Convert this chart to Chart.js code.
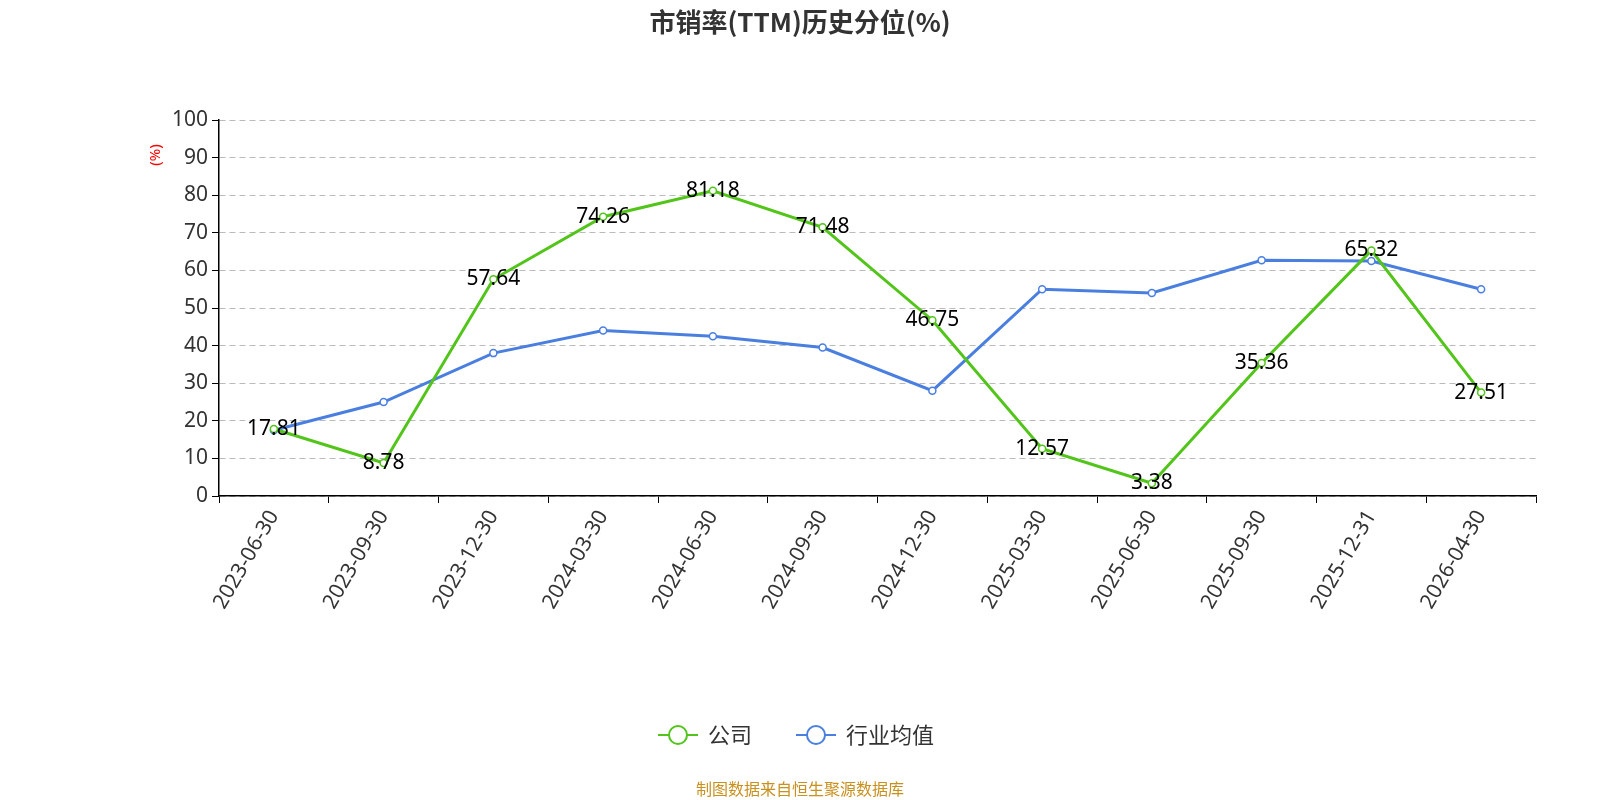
<!DOCTYPE html>
<html><head><meta charset="utf-8">
<script src="https://cdn.jsdelivr.net/npm/chart.js@4"></script>
<style>html,body{margin:0;padding:0;background:#fff;overflow:hidden}#w{width:1600px;height:800px}</style>
</head><body><div id="w"><canvas id="c"></canvas></div>
<script>
const categories=['2023-06-30','2023-09-30','2023-12-30','2024-03-30','2024-06-30','2024-09-30','2024-12-30','2025-03-30','2025-06-30','2025-09-30','2025-12-31','2026-04-30'];
const companyValues=[17.81,8.78,57.64,74.26,81.18,71.48,46.75,12.57,3.38,35.36,65.32,27.51];
const industryValues=[17.5,25,38,44,42.5,39.5,28,55,54,62.7,62.5,55];
const yTicks=[0,10,20,30,40,50,60,70,80,90,100];
const F='"Noto Sans","Noto Sans CJK SC",sans-serif';
const extras={id:'extras',afterDatasetsDraw(ch){
 const c=ch.ctx;c.save();
 const m=ch.getDatasetMeta(0);
 c.font='21px '+F;c.fillStyle='#000';c.textAlign='center';c.textBaseline='middle';
 m.data.forEach((p,i)=>c.fillText(String(companyValues[i]),p.x,p.y));
 c.font='bold 26px "Noto Sans CJK SC",sans-serif';c.fillStyle='#333';c.fillText('市销率(TTM)历史分位(%)',800,22);
 c.font='15px '+F;c.fillStyle='#ff0000';c.translate(156,155);c.rotate(-Math.PI/2);c.fillText('(%)',0,0);c.rotate(Math.PI/2);c.translate(-156,-155);
 const items=[['公司','#52c41a',658],['行业均值','#4a7fe0',796]];
 items.forEach(([t,col,x])=>{c.strokeStyle=col;c.lineWidth=2;c.beginPath();c.moveTo(x,735);c.lineTo(x+40,735);c.stroke();
  c.beginPath();c.arc(x+20,735,9,0,Math.PI*2);c.fillStyle='#fff';c.fill();c.stroke();
  c.fillStyle='#333';c.font='22px "Noto Sans CJK SC",sans-serif';c.textAlign='left';c.fillText(t,x+50,735);});
 c.font='16px "Noto Sans CJK SC",sans-serif';c.fillStyle='#c8901e';c.textAlign='center';c.fillText('制图数据来自恒生聚源数据库',800,789);
 c.restore();}};
new Chart(document.getElementById('c'),{type:'line',
 data:{labels:categories,datasets:[
  {label:'公司',data:companyValues,borderColor:'#52c41a',backgroundColor:'#fff',borderWidth:3,pointRadius:3.5,pointBorderWidth:1.5,tension:0},
  {label:'行业均值',data:industryValues,borderColor:'#4a7fe0',backgroundColor:'#fff',borderWidth:3,pointRadius:3.5,pointBorderWidth:1.5,tension:0}]},
 options:{responsive:true,maintainAspectRatio:false,animation:false,
  layout:{padding:{top:120,right:64,left:0,bottom:0}},
  plugins:{legend:{display:false},tooltip:{enabled:false}},
  scales:{
   x:{offset:true,grid:{display:true,drawOnChartArea:false,offset:true,color:'#000',tickLength:7},border:{color:'#000',width:1.5},
     ticks:{color:'#333',font:{size:21,family:F},maxRotation:60,minRotation:60,autoSkip:false},
     afterFit(s){s.height=304;}},
   y:{min:0,max:100,afterBuildTicks(s){s.ticks=yTicks.map(v=>({value:v}));},
     grid:{color:'#bbb',tickLength:7,tickColor:'#000'},border:{color:'#000',width:1.5,dash:[6,4]},
     ticks:{color:'#333',font:{size:21,family:F},padding:4},
     afterFit(s){s.width=219;}}
  }},
 plugins:[extras]
});
</script></body></html>
